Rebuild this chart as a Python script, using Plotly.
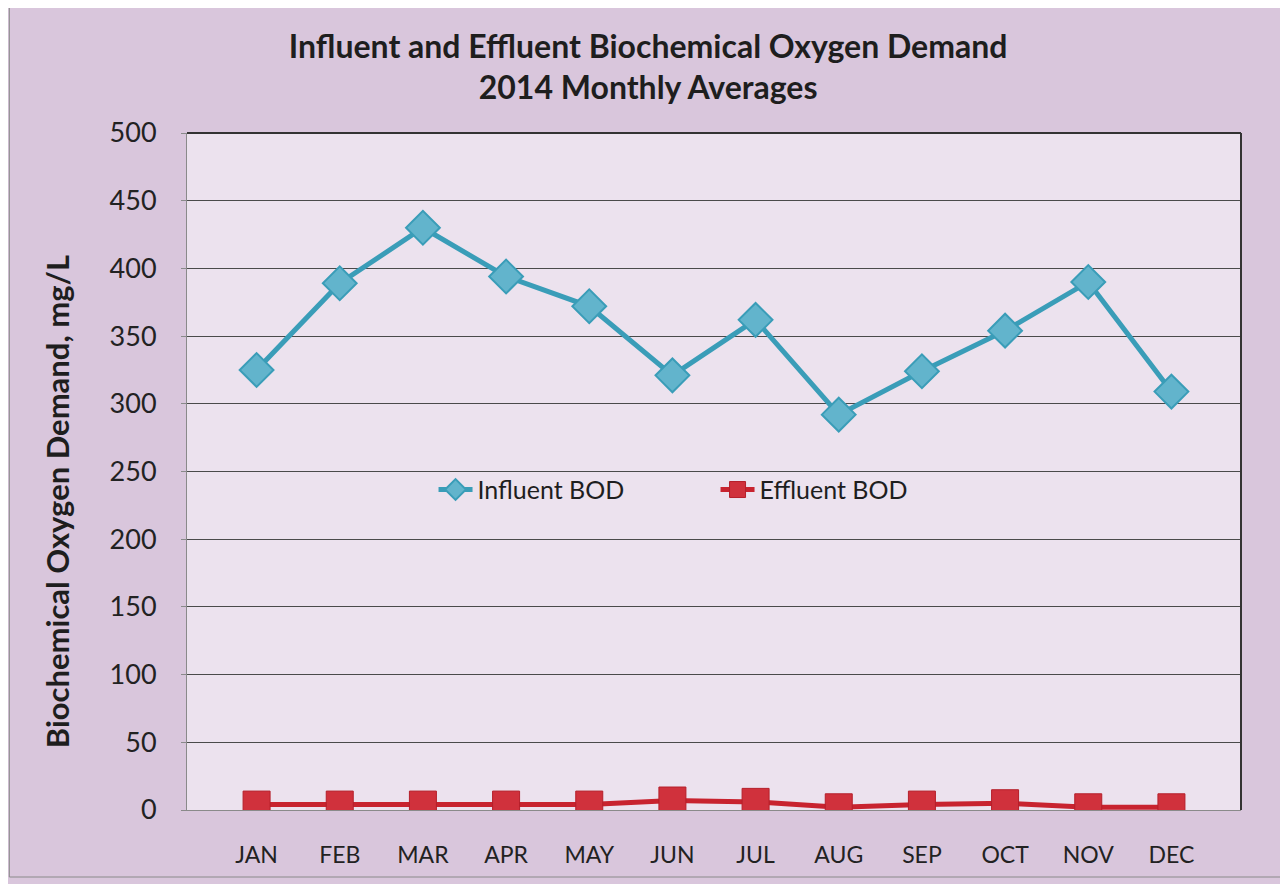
import plotly.graph_objects as go

months = ['JAN', 'FEB', 'MAR', 'APR', 'MAY', 'JUN', 'JUL', 'AUG', 'SEP', 'OCT', 'NOV', 'DEC']
influent_bod = [325, 389, 430, 394, 372, 321, 362, 292, 324, 354, 390, 309]
effluent_bod = [4, 4, 4, 4, 4, 7, 6, 2, 4, 5, 2, 2]
y_ticks = [0, 50, 100, 150, 200, 250, 300, 350, 400, 450, 500]

FONT = 'Lato, Open Sans, sans-serif'
TEAL = '#3a9db8'
RED = '#c8232f'

# plot area in px (page has a small body margin, margins below account for it)
PLOT_W = 1056
PLOT_H = 677

fig = go.Figure()

# influent line
fig.add_trace(go.Scatter(
    x=months, y=influent_bod, name='Influent BOD', mode='lines+markers',
    line=dict(color=TEAL, width=5),
    marker=dict(symbol='diamond', size=26, color='#62b4cc', line=dict(color=TEAL, width=2))))

# effluent line
fig.add_trace(go.Scatter(
    x=months, y=effluent_bod, name='Effluent BOD', mode='lines+markers',
    line=dict(color=RED, width=5),
    marker=dict(symbol='square', size=27, color='#d0313c', line=dict(color='#b51f2a', width=1))))

fig.update_layout(
    width=1288, height=884,
    margin=dict(l=179, r=55, t=125, b=82),
    paper_bgcolor='#d9c6dc',
    plot_bgcolor='#ece2ee',
    font=dict(family=FONT, color='#222222'),
    title=dict(text='<b>Influent and Effluent Biochemical Oxygen Demand<br>2014 Monthly Averages</b>',
               x=0.497, xanchor='center', yref='container', y=0.944, yanchor='top',
               font=dict(size=32, color='#1e1e1e')),
    showlegend=True,
    legend=dict(orientation='h', x=(432 - 185) / PLOT_W, xanchor='left', y=0.473, yanchor='middle',
                bgcolor='rgba(0,0,0,0)', font=dict(size=25, color='#1e1e1e'),
                entrywidth=233, entrywidthmode='pixels', itemwidth=34, traceorder='normal'),
)

fig.update_xaxes(
    type='category', showgrid=False, showline=True, linecolor='#8a8a8a', linewidth=1,
    ticks='', tickfont=dict(size=23), ticklabelstandoff=24, mirror=False)

fig.update_yaxes(
    range=[0, 500], tickvals=y_ticks, showgrid=True, gridcolor='#4a4a4a', gridwidth=1,
    showline=True, linecolor='#8a8a8a', linewidth=1, ticks='outside', ticklen=5,
    tickcolor='#8a8a8a', tickfont=dict(size=27), ticklabelstandoff=19, zeroline=False)

# y axis title as a rotated annotation (sits a little below the plot centre)
fig.add_annotation(text='<b>Biochemical Oxygen Demand, mg/L</b>', textangle=-90,
                   xref='paper', yref='paper', x=(55 - 185) / PLOT_W, y=(810 - 502) / PLOT_H,
                   xanchor='center', yanchor='middle', showarrow=False,
                   font=dict(size=31, color='#1e1e1e'))

# top and right border of plot area
fig.add_shape(type='line', xref='paper', yref='paper', x0=0, x1=1, y0=1, y1=1,
              line=dict(color='#333333', width=2))
fig.add_shape(type='line', xref='paper', yref='paper', x0=1, x1=1, y0=0, y1=1,
              line=dict(color='#333333', width=2))

# outer chart border
fig.add_shape(type='rect', xref='paper', yref='paper',
              x0=(7 - 185) / PLOT_W, x1=(1281 - 185) / PLOT_W,
              y0=-(877 - 810) / PLOT_H, y1=1 + (133 - 7) / PLOT_H,
              line=dict(color='#8a8a8a', width=1), layer='below')

fig.write_html('out.html')
